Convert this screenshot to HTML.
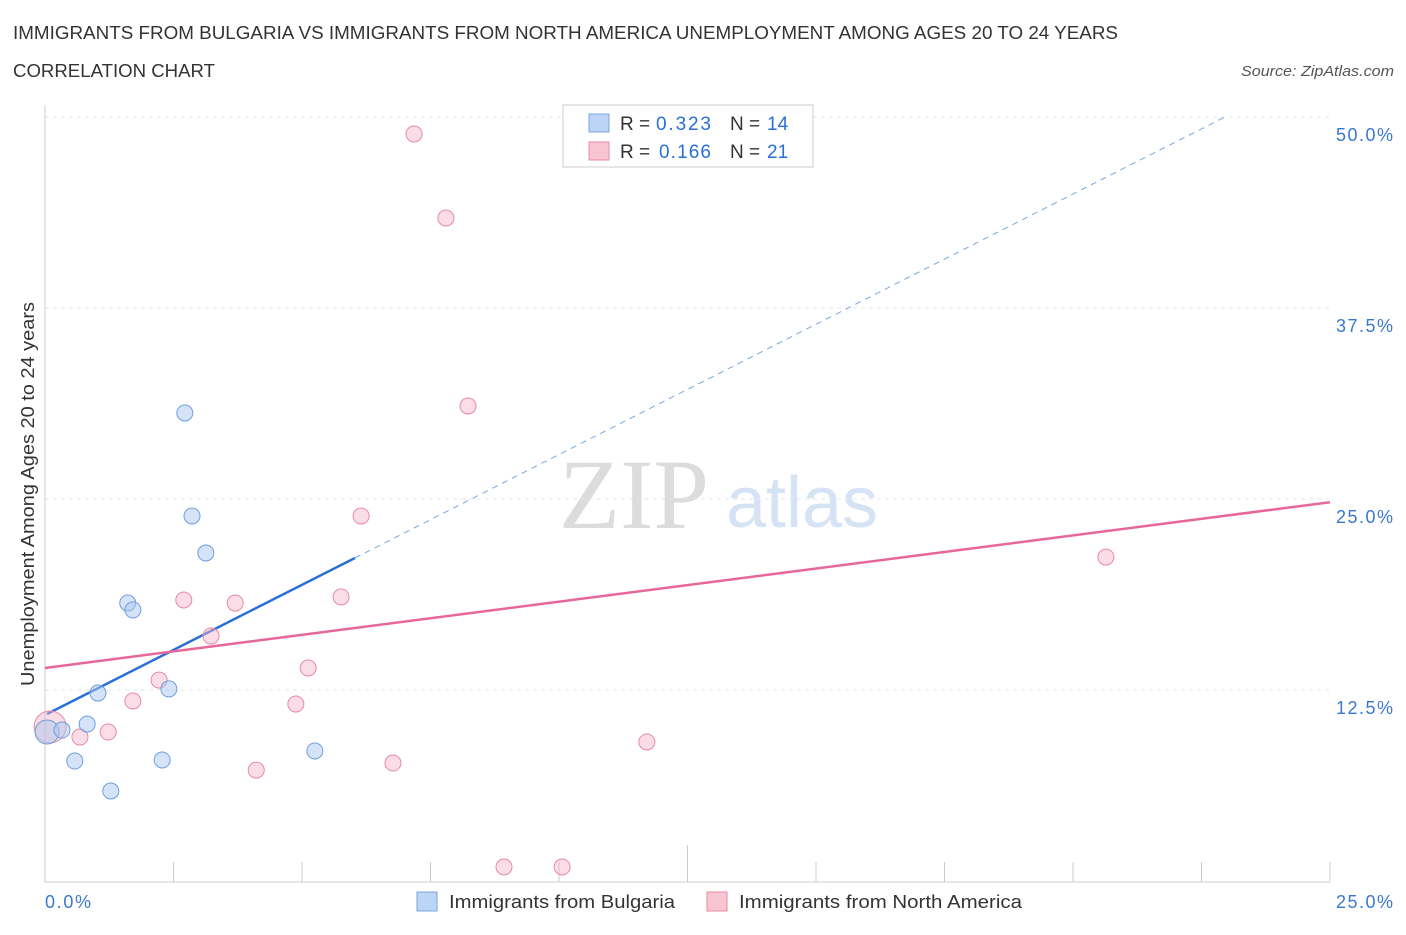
<!DOCTYPE html>
<html><head><meta charset="utf-8"><style>
body{margin:0;background:#fff;font-family:"Liberation Sans",sans-serif;}
</style></head><body>
<svg id="chart" width="1406" height="930" font-family="Liberation Sans, sans-serif">
<text x="13" y="39" font-size="18" fill="#333" textLength="1105" lengthAdjust="spacingAndGlyphs">IMMIGRANTS FROM BULGARIA VS IMMIGRANTS FROM NORTH AMERICA UNEMPLOYMENT AMONG AGES 20 TO 24 YEARS</text>
<text x="13" y="77" font-size="18" fill="#333" textLength="202" lengthAdjust="spacingAndGlyphs">CORRELATION CHART</text>
<text x="1394" y="76" font-size="15" fill="#555" font-style="italic" text-anchor="end" textLength="153" lengthAdjust="spacingAndGlyphs">Source: ZipAtlas.com</text>
<text x="634" y="528" font-size="100" fill="#dcdcdc" style="font-family:'Liberation Serif',serif" text-anchor="middle">ZIP</text>
<text x="802" y="527" font-size="72" fill="#d5e3f5" text-anchor="middle">atlas</text>
<g id="grid"></g>
<g id="axes"></g>
<g id="lines"></g>
<g id="points"></g>
<text transform="translate(34,494) rotate(-90)" font-size="18" fill="#333" text-anchor="middle" textLength="384" lengthAdjust="spacingAndGlyphs">Unemployment Among Ages 20 to 24 years</text>
<text x="45" y="908" font-size="18" fill="#3a78d0" textLength="46">0.0%</text>
<text x="1336" y="908" font-size="18" fill="#3a78d0" textLength="57">25.0%</text>
<g>
<rect x="563" y="105" width="250" height="62" fill="#fff" stroke="#ccc"/>
<rect x="589" y="114" width="20" height="18" fill="#bcd4f5" stroke="#7aa6e0"/>
<rect x="589" y="142" width="20" height="18" fill="#f8c5d3" stroke="#e88aa6"/>
<text x="620" y="130" font-size="19" fill="#333">R =</text>
<text x="656" y="130" font-size="19" fill="#2a6fd6" textLength="55">0.323</text>
<text x="730" y="130" font-size="19" fill="#333">N =</text>
<text x="767" y="130" font-size="19" fill="#2a6fd6">14</text>
<text x="620" y="158" font-size="19" fill="#333">R =</text>
<text x="659" y="158" font-size="19" fill="#2a6fd6" textLength="52">0.166</text>
<text x="730" y="158" font-size="19" fill="#333">N =</text>
<text x="767" y="158" font-size="19" fill="#2a6fd6">21</text>
</g>
<g>
<rect x="417" y="892" width="20" height="19" fill="#bcd4f5" stroke="#7aa6e0"/>
<text x="449" y="908" font-size="18" fill="#333" textLength="226" lengthAdjust="spacingAndGlyphs">Immigrants from Bulgaria</text>
<rect x="707" y="892" width="20" height="19" fill="#f8c5d3" stroke="#e88aa6"/>
<text x="739" y="908" font-size="18" fill="#333" textLength="283" lengthAdjust="spacingAndGlyphs">Immigrants from North America</text>
</g>
</svg>
<script>
const yTicks=[12.5,25,37.5,50];
const yTickLabels=["12.5%","25.0%","37.5%","50.0%"];
const xTicks=[0,2.5,5,7.5,10,12.5,15,17.5,20,22.5,25];
const bulgariaX=[0.04,0.33,0.58,0.82,1.03,1.28,1.61,1.71,2.28,2.41,2.72,2.86,3.13,5.25];
const bulgariaY=[9.75,9.88,7.85,10.27,12.30,5.89,18.19,17.74,7.92,12.57,30.63,23.89,21.47,8.51];
const naX=[0.10,0.68,1.23,1.71,2.22,2.70,3.23,3.70,4.11,4.88,5.12,5.76,6.15,6.77,7.18,7.80,8.23,8.93,10.06,11.71,20.64];
const naY=[10.08,9.42,9.75,11.78,13.15,18.39,16.03,18.19,7.26,11.58,13.94,18.59,23.89,7.72,48.89,43.39,31.09,0.92,0.92,9.10,21.20];
const bulgariaFit=[10.86,1.705];
const naFit=[13.94,0.434];
const X=v=>45+v/25*1285, Y=v=>881-v/50*764;
const NS="http://www.w3.org/2000/svg";
function mk(t,a,p){const e=document.createElementNS(NS,t);for(const k in a)e.setAttribute(k,a[k]);p.appendChild(e);return e;}
const grid=document.getElementById('grid'),axes=document.getElementById('axes'),lines=document.getElementById('lines'),pts=document.getElementById('points');
yTicks.forEach((t,i)=>{
 const l=mk('line',{x1:45,x2:1330,y1:Y(t),y2:Y(t),stroke:'#e6e6e6','stroke-dasharray':'4,4'},grid);
 
 
 const tx=mk('text',{x:1393,y:Y(t)+24,'font-size':18,fill:'#3a78d0','text-anchor':'end',textLength:57},grid);
 tx.textContent=yTickLabels[i];
 
 
});
const ya=mk('line',{x1:45,x2:45,y1:105,y2:882,stroke:'#ccc'},axes);


const xa=mk('line',{x1:45,x2:1330,y1:882,y2:882,stroke:'#ccc'},axes);


xTicks.forEach(t=>{
 const tk=mk('line',{x1:X(t),x2:X(t),y1:t==12.5?845:862,y2:882,stroke:'#ccc'},axes);
 
 
});
const bx1=6.03;
const b1=mk('line',{x1:X(0.04),y1:Y(bulgariaFit[0]+bulgariaFit[1]*0.04),x2:X(bx1),y2:Y(bulgariaFit[0]+bulgariaFit[1]*bx1),stroke:'#2a6fd6','stroke-width':2.5},lines);


const xe=(50-bulgariaFit[0])/bulgariaFit[1];
const b2=mk('line',{x1:X(bx1),y1:Y(bulgariaFit[0]+bulgariaFit[1]*bx1),x2:X(xe),y2:Y(50),stroke:'#7aa6e0','stroke-width':1,'stroke-dasharray':'6,5'},lines);


const p1=mk('line',{x1:X(0),y1:Y(naFit[0]),x2:X(25),y2:Y(naFit[0]+naFit[1]*25),stroke:'#e8679a','stroke-width':2.5},lines);


naX.forEach((x,i)=>{
 const c=mk('circle',{cx:X(x),cy:Y(naY[i]),r:i==0?16:8,fill:'rgba(245,180,200,0.45)',stroke:'#e88aa6','stroke-width':1},pts);
 
 
});
bulgariaX.forEach((x,i)=>{
 const c=mk('circle',{cx:X(x),cy:Y(bulgariaY[i]),r:i==0?12:8,fill:'rgba(170,200,240,0.5)',stroke:'#6f9edc','stroke-width':1},pts);
 
 
});
</script>
</body></html>
